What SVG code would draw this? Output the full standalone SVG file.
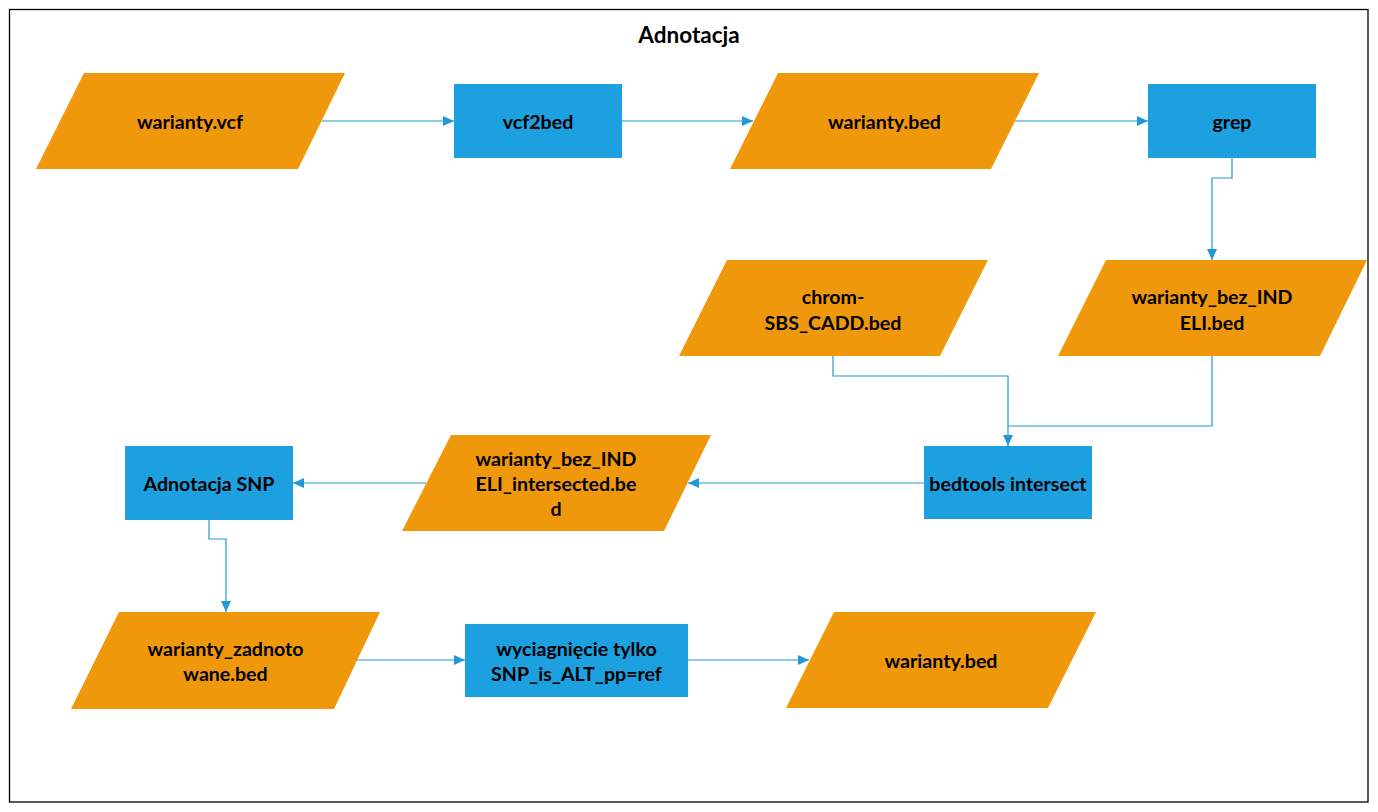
<svg xmlns="http://www.w3.org/2000/svg" width="1378" height="812" viewBox="0 0 1378 812">
<style>
.io{fill:#EF980B;}
.pr{fill:#1DA0E0;}
.t{font-family:Lato,"Liberation Sans",sans-serif;font-weight:bold;font-size:19.6px;fill:#000;text-anchor:middle;dominant-baseline:central;}
.c{fill:none;stroke:#1F9AD6;stroke-width:1.2;}
</style>
<defs>
<marker id="ah" markerUnits="userSpaceOnUse" markerWidth="11" markerHeight="10" refX="11" refY="5" orient="auto">
<path d="M0,0 L11,5 L0,10 z" fill="#1F9AD6"/>
</marker>
</defs>
<rect x="0" y="0" width="1378" height="812" fill="#fff"/>
<rect x="9.5" y="9.5" width="1358.5" height="792.5" fill="none" stroke="#000" stroke-width="1.3"/>
<text class="t" x="689" y="34" style="font-size:22.5px">Adnotacja</text>

<g id="connectors">
<path class="c" d="M322,121 H454" marker-end="url(#ah)"/>
<path class="c" d="M622,121 H753" marker-end="url(#ah)"/>
<path class="c" d="M1015,121 H1148" marker-end="url(#ah)"/>
<path class="c" d="M1232,158 V178 H1212 V260" marker-end="url(#ah)"/>
<path class="c" d="M833,356 V376 H1008 V446" marker-end="url(#ah)"/>
<path class="c" d="M1212,356 V426 H1008"/>
<path class="c" d="M924,483 H688" marker-end="url(#ah)"/>
<path class="c" d="M426,483 H293" marker-end="url(#ah)"/>
<path class="c" d="M209,520 V539 H226 V612" marker-end="url(#ah)"/>
<path class="c" d="M356,660 H465" marker-end="url(#ah)"/>
<path class="c" d="M688,660 H809" marker-end="url(#ah)"/>
</g>

<g id="n_vcf">
<polygon class="io" points="84,73 345,73 298,169 36,169"/>
<text class="t" x="190" y="121">warianty.vcf</text>
</g>
<g id="n_vcf2bed">
<rect class="pr" x="454" y="84" width="168" height="74"/>
<text class="t" x="538" y="121">vcf2bed</text>
</g>
<g id="n_bed1">
<polygon class="io" points="778,73 1039,73 991,169 730,169"/>
<text class="t" x="884.5" y="121">warianty.bed</text>
</g>
<g id="n_grep">
<rect class="pr" x="1148" y="84" width="168" height="74"/>
<text class="t" x="1232" y="121">grep</text>
</g>
<g id="n_chrom">
<polygon class="io" points="727,260 988,260 940,356 679,356"/>
<text class="t" x="833" y="296">chrom-</text>
<text class="t" x="833" y="322">SBS_CADD.bed</text>
</g>
<g id="n_bezindeli">
<polygon class="io" points="1106,260 1367,260 1320,356 1058,356"/>
<text class="t" x="1212" y="296">warianty_bez_IND</text>
<text class="t" x="1212" y="322">ELI.bed</text>
</g>
<g id="n_bedtools">
<rect class="pr" x="924" y="446" width="168" height="73"/>
<text class="t" x="1008" y="483">bedtools intersect</text>
</g>
<g id="n_intersected">
<polygon class="io" points="451,435 711,435 664,531 402,531"/>
<text class="t" x="556" y="458">warianty_bez_IND</text>
<text class="t" x="556" y="483">ELI_intersected.be</text>
<text class="t" x="556" y="508">d</text>
</g>
<g id="n_adnsnp">
<rect class="pr" x="125" y="446" width="168" height="74"/>
<text class="t" x="209" y="483">Adnotacja SNP</text>
</g>
<g id="n_zadnot">
<polygon class="io" points="119,612 380,612 334,709 71,709"/>
<text class="t" x="225.5" y="648">warianty_zadnoto</text>
<text class="t" x="225.5" y="673">wane.bed</text>
</g>
<g id="n_wyciag">
<rect class="pr" x="465" y="624" width="223" height="73"/>
<text class="t" x="576.5" y="648">wyciagnięcie tylko</text>
<text class="t" x="576.5" y="673">SNP_is_ALT_pp=ref</text>
</g>
<g id="n_bed2">
<polygon class="io" points="834,612 1096,612 1048,708 786,708"/>
<text class="t" x="941" y="660">warianty.bed</text>
</g>
</svg>
